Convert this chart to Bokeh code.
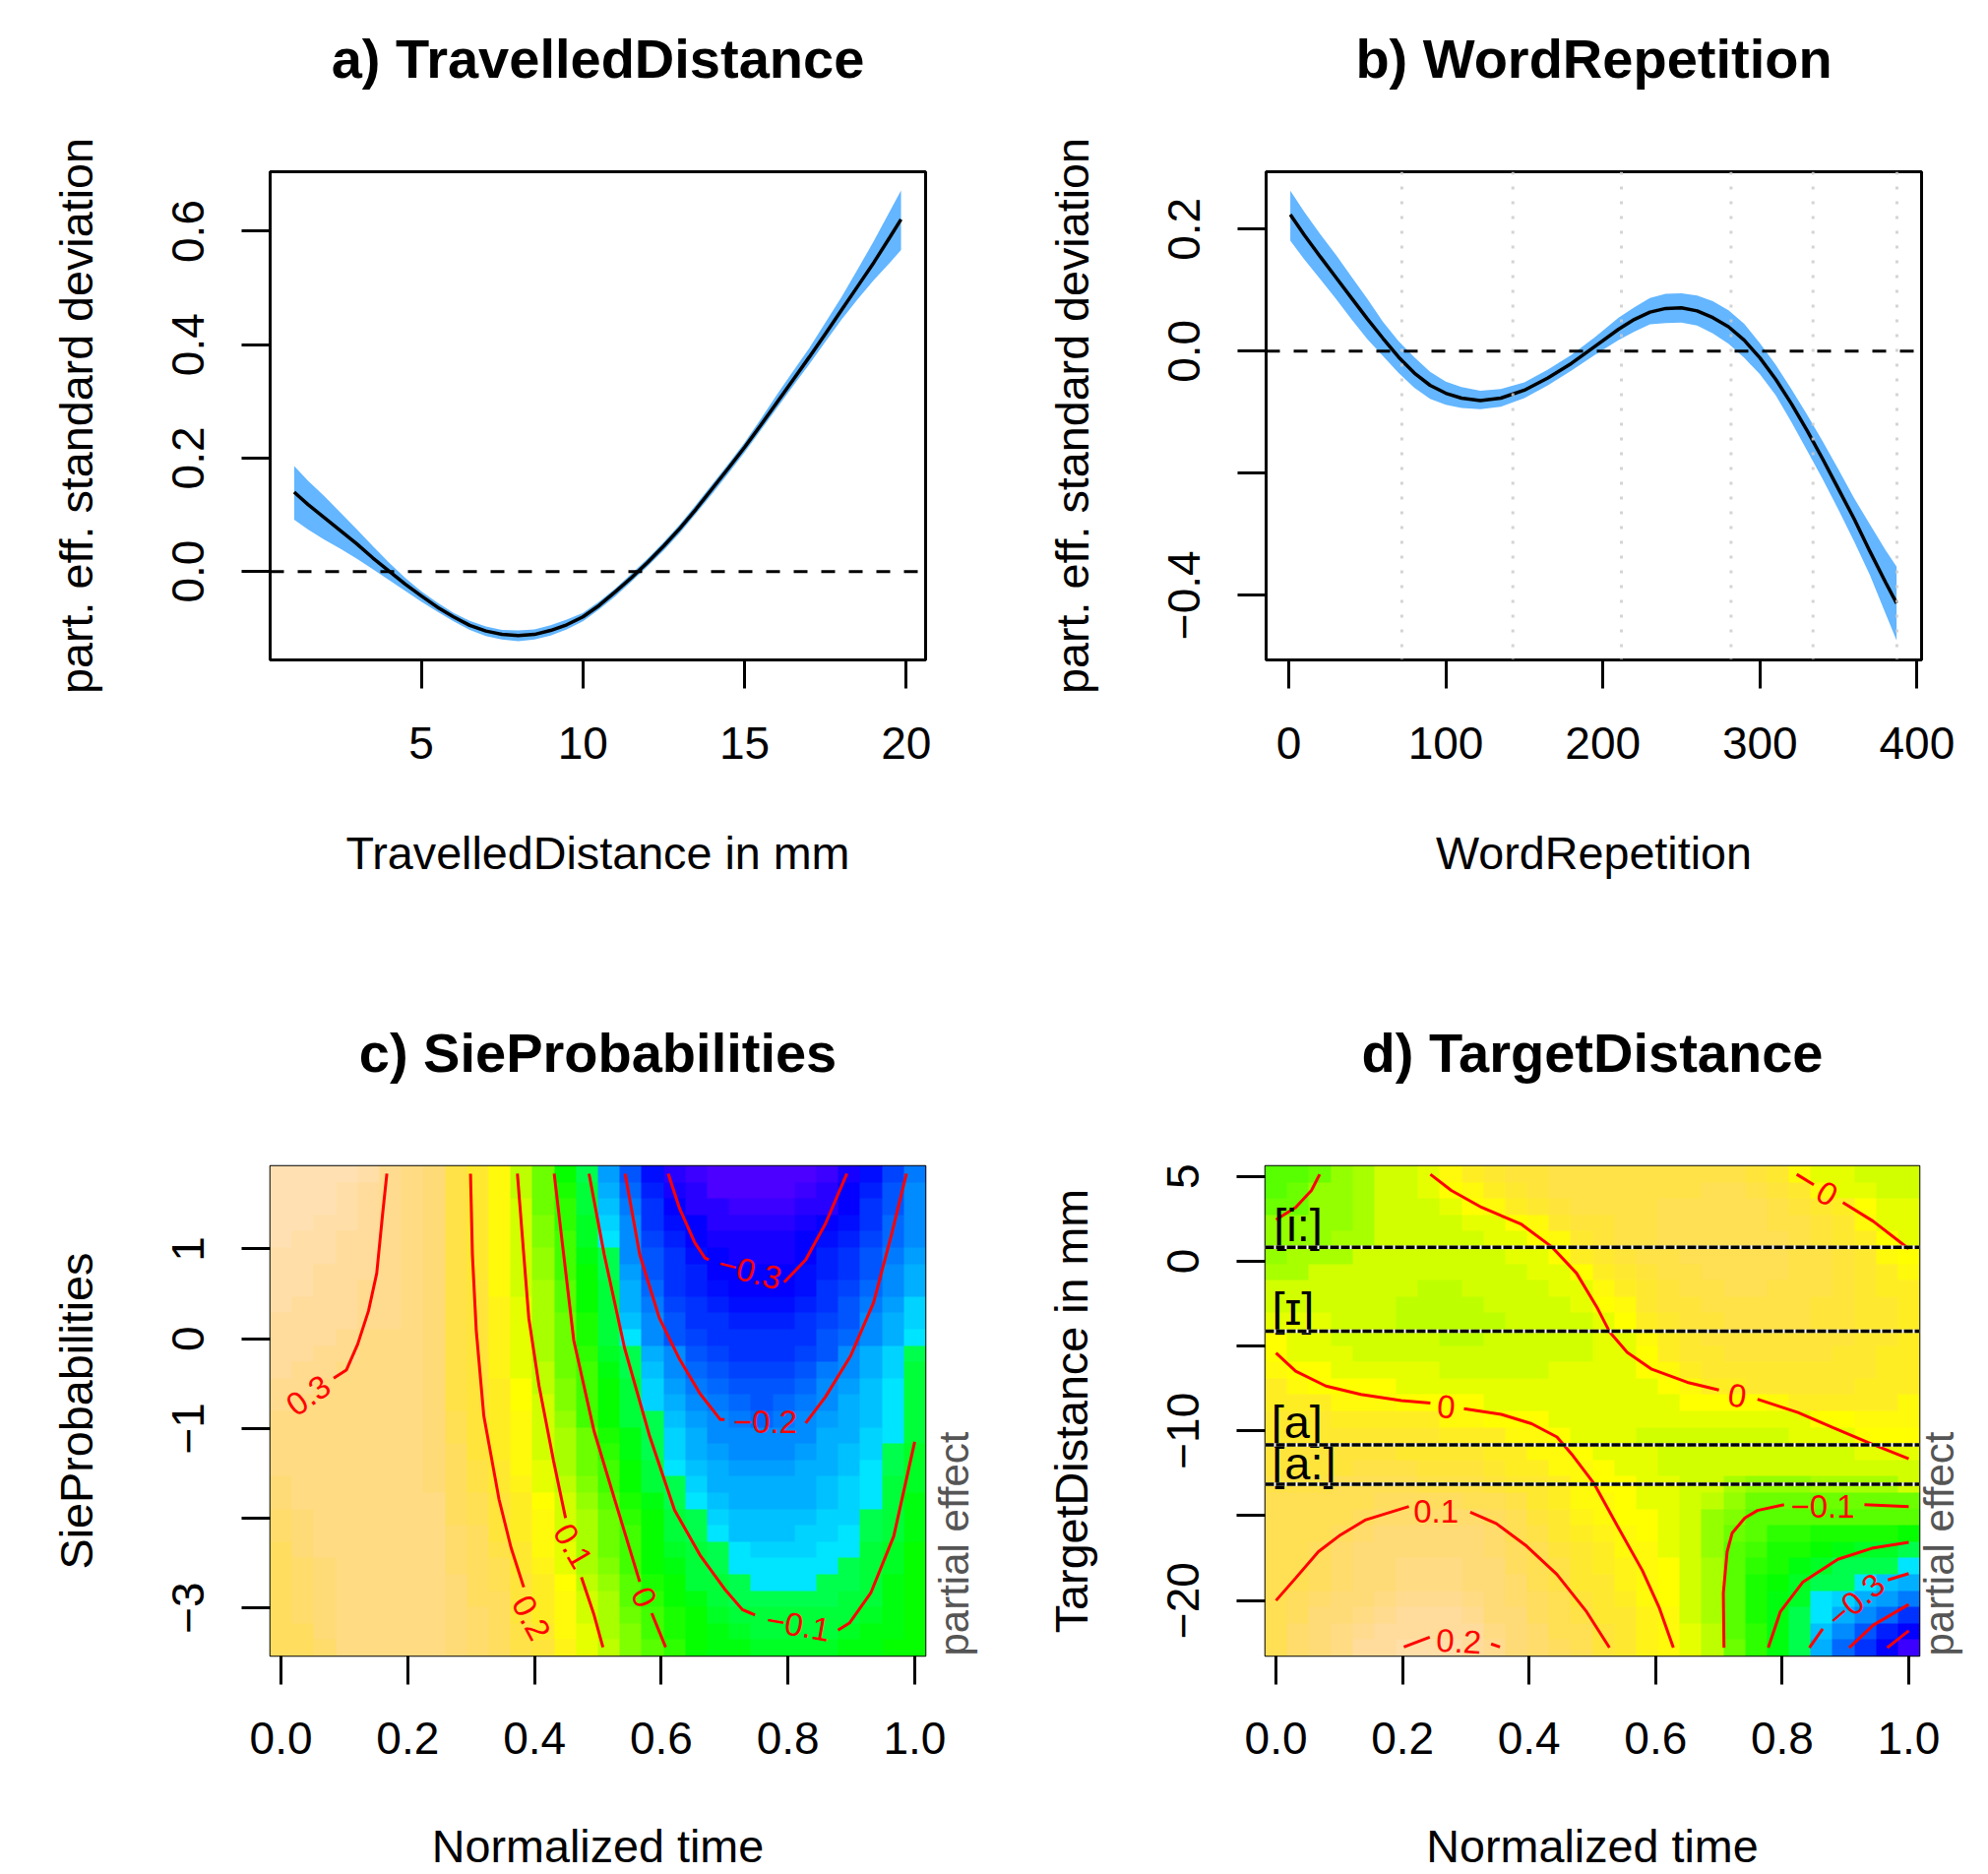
import colorsys
import math
import numpy as np
from bokeh.core.properties import value
from bokeh.embed import file_html
from bokeh.layouts import column, row
from bokeh.models import FixedTicker, LinearAxis, LinearColorMapper, Range1d, Span
from bokeh.plotting import figure
from bokeh.resources import INLINE

a_x = [1.07, 1.5, 2, 2.5, 3, 3.5, 4, 4.5, 5, 5.5, 6, 6.5, 7, 7.5, 8, 8.5, 9, 9.5, 10, 10.5, 11, 11.5, 12, 12.5, 13, 13.5, 14, 14.5, 15, 15.5, 16, 16.5, 17, 17.5, 18, 18.5, 19, 19.5, 19.84]
a_y = [.14, .118, .095, .072, .049, .024, .001, -.022, -.043, -.063, -.08, -.095, -.105, -.111, -.113, -.111, -.104, -.094, -.08, -.06, -.036, -.011, .016, .045, .076, .11, .146, .182, .219, .258, .298, .338, .378, .419, .461, .503, .545, .59, .621]
a_up = [.186, .16, .133, .104, .075, .045, .016, -.011, -.035, -.055, -.073, -.087, -.097, -.103, -.104, -.102, -.095, -.085, -.073, -.053, -.03, -.004, .023, .052, .083, .118, .154, .19, .227, .269, .312, .353, .394, .439, .484, .533, .583, .636, .672]
a_lo = [.0915, .074, .056, .04, .023, .004, -.015, -.034, -.053, -.071, -.088, -.103, -.114, -.12, -.123, -.12, -.113, -.102, -.088, -.067, -.044, -.018, .009, .037, .068, .102, .137, .173, .21, .249, .288, .327, .365, .405, .444, .48, .514, .545, .567]

b_x = [1, 10, 20, 30, 40, 50, 60, 70, 80, 90, 100, 110, 122, 135, 150, 165, 180, 195, 210, 220, 230, 240, 250, 260, 270, 280, 290, 300, 310, 320, 330, 340, 350, 360, 370, 380, 387]
b_y = [.224, .19, .155, .121, .087, .053, .021, -.01, -.036, -.056, -.069, -.077, -.081, -.077, -.064, -.044, -.02, .008, .036, .052, .064, .07, .071, .066, .055, .04, .018, -.011, -.046, -.086, -.13, -.177, -.226, -.275, -.328, -.379, -.413]
b_up = [.263, .228, .192, .158, .122, .086, .048, .016, -.01, -.034, -.05, -.059, -.065, -.062, -.051, -.03, -.006, .023, .055, .072, .087, .094, .095, .091, .082, .067, .045, .013, -.022, -.062, -.104, -.148, -.194, -.241, -.284, -.326, -.353]
b_lo = [.181, .15, .118, .086, .052, .02, -.008, -.036, -.06, -.078, -.088, -.093, -.095, -.091, -.077, -.056, -.032, -.006, .018, .032, .044, .046, .047, .042, .029, .012, -.011, -.038, -.072, -.116, -.163, -.21, -.26, -.312, -.367, -.43, -.474]
b_knots = [72, 142.7, 211.8, 281.6, 333.8, 387.2]

c_matrix = [
[35,35,35,34,33,30,29,27,22,19,14,9,3,-3,-9,-16,-21,-27,-31,-33,-34,-35,-35,-34,-34,-33,-30,-27,-23,-19],
[35,35,34,33,32,30,29,27,22,19,14,9,4,-2,-8,-14,-20,-26,-30,-32,-34,-34,-34,-34,-33,-32,-29,-26,-22,-18],
[34,34,34,33,32,30,29,27,22,19,14,10,4,-1,-7,-13,-19,-25,-29,-31,-32,-33,-33,-33,-32,-31,-28,-25,-21,-18],
[34,34,33,33,32,30,29,27,22,19,14,10,5,-1,-6,-12,-18,-24,-27,-29,-31,-31,-31,-31,-30,-28,-27,-24,-20,-17],
[34,33,33,32,31,30,29,27,22,19,14,10,5,0,-6,-11,-18,-23,-26,-28,-30,-30,-30,-30,-29,-27,-26,-23,-20,-17],
[33,33,33,32,31,30,29,27,22,19,15,11,6,0,-5,-9,-17,-22,-25,-27,-29,-30,-30,-30,-28,-26,-25,-22,-19,-16],
[33,33,32,32,31,30,29,27,22,19,15,11,6,1,-4,-9,-16,-21,-24,-26,-28,-29,-29,-29,-27,-26,-24,-21,-18,-15],
[33,33,32,31,30,30,29,27,22,20,15,11,7,2,-4,-8,-15,-20,-24,-26,-27,-28,-28,-28,-27,-25,-23,-20,-17,-14],
[33,32,32,31,30,30,29,27,22,20,16,12,7,2,-3,-8,-14,-19,-23,-25,-26,-27,-27,-27,-26,-24,-22,-19,-16,-12],
[32,32,31,31,30,30,29,27,22,20,16,12,7,3,-2,-8,-13,-18,-22,-24,-25,-26,-26,-26,-25,-23,-21,-18,-15,-12],
[32,31,31,30,29,29,29,27,22,20,16,12,8,3,-2,-7,-11,-17,-21,-23,-24,-25,-25,-25,-24,-22,-20,-17,-14,-11],
[31,31,30,30,29,29,28,27,22,20,16,12,8,4,-1,-6,-9,-14,-18,-21,-23,-24,-24,-24,-23,-21,-18,-15,-12,-9],
[31,30,30,29,29,29,28,27,22,20,16,12,9,4,0,-5,-9,-13,-17,-20,-22,-23,-23,-23,-21,-19,-17,-14,-12,-8],
[30,30,29,29,29,29,28,27,22,20,17,13,9,5,0,-4,-8,-12,-16,-19,-20,-21,-22,-21,-20,-18,-16,-13,-11,-8],
[30,29,29,29,29,29,28,27,22,20,17,13,10,5,1,-4,-8,-12,-15,-17,-19,-20,-21,-20,-19,-17,-15,-13,-11,-7],
[29,29,29,29,29,29,28,27,23,21,17,14,10,6,1,-3,-7,-9,-13,-16,-18,-19,-20,-19,-18,-16,-15,-13,-11,-7],
[29,29,29,29,29,29,28,27,23,21,18,14,11,7,3,-2,-5,-9,-12,-15,-17,-18,-18,-18,-17,-15,-14,-12,-11,-7],
[28,29,29,29,29,29,28,27,24,21,18,15,11,7,4,-1,-5,-9,-12,-14,-16,-17,-17,-17,-16,-14,-13,-12,-9,-6],
[28,28,29,29,29,29,28,27,24,22,19,15,12,8,4,0,-4,-8,-11,-13,-15,-16,-16,-16,-15,-14,-13,-11,-9,-6],
[27,28,29,29,29,29,28,27,24,22,19,16,12,9,5,1,-3,-7,-9,-12,-14,-15,-15,-15,-14,-13,-12,-11,-8,-6],
[27,28,28,29,29,29,29,28,25,23,20,17,13,10,6,2,-2,-5,-9,-11,-13,-14,-14,-14,-14,-13,-12,-11,-8,-5],
[26,27,28,29,29,29,29,28,25,23,21,17,14,10,7,3,-1,-4,-8,-9,-12,-13,-13,-13,-13,-12,-12,-9,-7,-5],
[26,27,28,28,29,29,29,29,26,24,21,18,15,11,7,4,0,-4,-7,-9,-11,-13,-13,-13,-12,-12,-11,-9,-7,-5],
[25,27,28,28,29,29,29,29,26,24,22,19,15,12,8,4,1,-3,-6,-8,-9,-11,-12,-12,-12,-11,-11,-8,-6,-4],
[25,26,27,28,29,29,29,29,26,25,23,19,16,12,8,5,1,-3,-5,-8,-9,-11,-11,-11,-11,-11,-9,-8,-6,-4],
[25,26,27,28,28,29,29,29,27,25,23,20,17,13,9,6,2,-2,-4,-7,-8,-9,-11,-11,-11,-9,-9,-7,-5,-4],
[25,26,27,28,28,29,29,29,27,25,24,21,17,14,10,7,2,-1,-3,-5,-7,-9,-9,-9,-9,-9,-8,-7,-5,-4],
[24,26,27,28,28,29,29,29,27,26,24,21,18,14,11,7,4,0,-2,-4,-6,-7,-8,-8,-8,-8,-7,-6,-5,-4],
[24,25,27,28,28,29,29,29,27,26,24,22,19,15,12,8,5,1,-2,-3,-5,-6,-7,-7,-7,-7,-6,-5,-5,-4],
[24,25,26,28,28,29,29,29,27,26,25,22,20,16,12,9,5,2,-1,-3,-5,-5,-6,-6,-6,-6,-5,-5,-4,-4],
]

d_matrix = [
[-10,-10,-9,-7,-5,-3,-2,-1,2,4,6,7,7,8,8,8,8,8,8,8,8,8,7,6,2,-1,-1,-3,-3,-3],
[-10,-9,-7,-6,-5,-3,-3,-1,0,2,4,6,7,8,8,8,8,8,8,8,9,9,8,7,6,2,-1,-1,-2,-2],
[-9,-9,-7,-6,-5,-3,-3,-2,-1,0,2,4,6,7,8,8,8,8,9,9,9,9,9,8,7,6,4,0,-1,-1],
[-7,-7,-6,-6,-5,-3,-3,-3,-2,-1,-1,0,2,6,7,7,8,8,9,9,9,9,9,8,8,7,6,2,-1,-1],
[-6,-6,-6,-5,-5,-3,-3,-3,-3,-2,-1,-1,0,2,6,7,8,8,9,9,9,9,9,9,8,7,6,4,0,-1],
[-6,-5,-5,-5,-3,-3,-3,-3,-3,-3,-2,-1,-1,0,4,6,7,8,8,9,9,9,9,9,8,8,7,6,2,0],
[-5,-5,-3,-3,-3,-3,-3,-3,-3,-3,-3,-2,-1,-1,0,4,6,7,8,8,9,9,9,9,8,8,7,6,4,2],
[-3,-3,-3,-3,-3,-3,-3,-4,-4,-3,-3,-3,-2,-1,-1,2,4,6,7,8,8,9,9,8,8,8,7,6,4,4],
[-2,-2,-3,-3,-3,-3,-4,-4,-4,-4,-3,-3,-3,-2,-1,0,2,6,7,7,8,8,8,8,8,7,7,6,6,4],
[-1,-1,-1,-3,-3,-3,-4,-4,-4,-4,-4,-3,-3,-3,-2,-1,0,4,6,7,7,8,8,8,8,7,7,6,6,4],
[0,-1,-1,-2,-3,-3,-3,-3,-4,-4,-3,-3,-3,-3,-2,-1,-1,2,4,6,7,7,7,7,7,7,7,6,6,4],
[0,-1,-1,-1,-2,-2,-3,-3,-3,-3,-3,-3,-3,-2,-2,-1,-1,0,4,6,6,7,7,7,7,7,6,6,4,4],
[2,0,0,-1,-1,-1,-1,-1,-2,-2,-2,-2,-2,-1,-1,-1,-1,0,2,4,6,6,6,6,6,6,6,6,4,4],
[4,2,0,0,0,0,-1,-1,-1,-1,-1,-1,-1,-1,-1,-1,-1,-1,0,2,4,4,6,6,6,6,6,4,4,4],
[4,4,4,2,2,2,0,0,0,0,-1,-1,-1,-1,-1,-1,-1,-1,-1,0,0,0,0,2,4,4,4,4,4,2],
[6,6,6,4,4,4,4,4,2,2,0,0,0,-1,-1,-1,-1,-1,-1,-1,-1,-1,-1,-1,-1,0,0,2,2,2],
[6,6,6,6,6,6,6,6,4,4,4,2,2,0,-1,-1,-1,-2,-2,-2,-2,-2,-2,-2,-1,-1,-1,0,0,0],
[7,7,7,7,7,7,6,6,6,6,4,4,2,2,0,-1,-1,-1,-2,-3,-3,-3,-3,-3,-3,-2,-2,-1,-1,-1],
[7,7,7,7,8,8,8,7,7,7,6,4,4,2,2,0,-1,-1,-2,-3,-3,-3,-3,-3,-3,-3,-3,-3,-2,-2],
[8,8,8,9,9,9,9,8,8,8,7,6,6,4,2,0,0,-1,-1,-2,-3,-5,-6,-6,-6,-5,-5,-5,-5,-3],
[9,9,10,10,10,11,11,11,11,10,9,8,6,4,2,1,0,-1,-1,-2,-4,-6,-9,-9,-9,-9,-9,-9,-9,-9],
[9,10,10,10,11,12,12,12,12,12,11,9,7,5,3,2,0,0,-1,-3,-6,-8,-10,-11,-11,-11,-11,-11,-11,-11],
[9,10,10,11,12,13,13,13,13,13,12,10,8,6,4,3,1,0,-1,-3,-6,-9,-11,-13,-13,-14,-14,-15,-15,-16],
[9,10,11,12,13,14,14,14,14,13,12,11,9,7,5,4,2,1,-1,-3,-6,-10,-12,-14,-15,-16,-17,-18,-19,-21],
[9,10,11,12,13,14,15,15,15,14,13,11,9,8,6,4,3,1,0,-2,-5,-10,-13,-15,-17,-19,-21,-21,-21,-22],
[9,10,11,12,13,14,15,15,15,14,13,12,10,8,6,5,3,2,0,-2,-5,-10,-14,-16,-19,-21,-21,-22,-25,-27],
[9,11,12,13,14,15,16,16,16,15,14,12,11,9,7,6,4,2,0,-2,-5,-10,-14,-17,-19,-22,-24,-26,-28,-31],
[10,11,13,14,15,16,17,17,17,16,14,13,11,10,8,6,5,3,1,-2,-5,-10,-14,-17,-21,-22,-26,-29,-32,-36],
[10,12,13,15,16,17,18,18,18,17,15,14,12,10,9,7,5,3,1,-1,-4,-10,-13,-17,-21,-25,-29,-33,-37,-40],
[10,12,14,15,17,18,19,19,19,17,16,14,12,11,9,7,5,3,1,-1,-4,-9,-13,-17,-21,-26,-32,-36,-40,-44],
]

c_lines_x = [
    [.167, .16, .151, .138, .121, .103, .083],
    [.299, .302, .308, .32, .344, .363, .383],
    [.373, .383, .391, .407, .43, .449],
    [.474, .494, .508],
    [.431, .446, .462, .494, .526, .566],
    [.585, .607],
    [.486, .51, .542, .581, .621, .661, .70, .728, .748],
    [.879, .897, .931, .967, 1.0],
    [.543, .566, .597, .629, .661, .693, .70],
    [.828, .859, .899, .935, .963, .987],
    [.611, .629, .653, .669, .675],
    [.794, .828, .859, .893],
]
c_lines_y = [
    [1.84, 1.37, .73, .31, -.06, -.35, -.44],
    [1.84, .94, .10, -.86, -1.79, -2.33, -2.77],
    [1.84, .94, .23, -.52, -1.36, -2.0],
    [-2.66, -3.08, -3.44],
    [1.84, .94, -.02, -1.03, -1.78, -2.71],
    [-3.06, -3.44],
    [1.84, .94, -.1, -1.07, -1.91, -2.41, -2.79, -3.02, -3.08],
    [-3.25, -3.17, -2.83, -2.2, -1.15],
    [1.84, .94, .23, -.23, -.61, -.9, -.9],
    [-.94, -.65, -.19, .4, 1.15, 1.84],
    [1.84, 1.45, 1.07, .9, .88],
    [.63, .88, 1.28, 1.84],
]
c_label_text = ["0.3", "0.2", "0.1", "0", "\u22120.1", "\u22120.2", "\u22120.3"]
c_label_x = [.043, .395, .461, .573, .816, .764, .74]
c_label_y = [-.63, -3.11, -2.31, -2.88, -3.19, -.93, .755]
c_label_angle = [35, -62, -60, -65, -10, 0, -15]

d_lines_x = [
    [.069, .056, .031, 0],
    [.244, .277, .325, .388, .436, .475, .507, .527, .555, .594, .65, .70],
    [.761, .825, .88, .936, 1.0],
    [0, .031, .079, .134, .198, .244],
    [.297, .356, .404, .444, .467, .503, .539, .579, .606, .628],
    [.823, .85],
    [.896, .944, 1.0],
    [0, .031, .067, .102, .142, .21],
    [.307, .348, .396, .444, .491, .527],
    [.202, .243],
    [.34, .354],
    [.708, .707, .713, .721, .741, .761, .803],
    [.93, 1.0],
    [.778, .797, .833, .888, .944, 1.0],
    [.843, .864],
    [.967, 1.0],
    [.906, .944, 1.0],
    [.966, 1.0],
]
d_lines_y = [
    [5.12, 4.17, 3.17, 2.44],
    [5.12, 4.17, 3.17, 2.17, .84, -.71, -2.7, -4.15, -5.37, -6.37, -7.14, -7.59],
    [-8.14, -8.92, -9.8, -10.69, -11.65],
    [-5.41, -6.48, -7.36, -7.85, -8.21, -8.36],
    [-8.7, -9.03, -9.58, -10.36, -11.36, -13.13, -15.57, -18.23, -20.45, -22.78],
    [5.12, 4.5],
    [3.46, 2.35, .73],
    [-20, -18.68, -17.12, -16.13, -15.24, -14.46],
    [-14.8, -15.46, -16.79, -18.46, -20.67, -22.78],
    [-22.74, -22.16],
    [-22.56, -22.74],
    [-22.78, -19.57, -17.12, -16.02, -15.13, -14.69, -14.35],
    [-14.35, -14.46],
    [-22.78, -20.67, -18.9, -17.57, -16.9, -16.57],
    [-22.78, -21.67],
    [-18.79, -18.41],
    [-22.78, -21.45, -20.23],
    [-22.78, -21.78],
]
d_label_text = ["0", "0", "0", "0.1", "0.2", "\u22120.1", "\u22120.3"]
d_label_x = [.269, .729, .871, .253, .289, .864, .916]
d_label_y = [-8.58, -7.92, 3.99, -14.73, -22.4, -14.46, -20.0]
d_label_angle = [-4, -8, -31, 0, -3, 0, 41]

vowel_lines = [.82, -4.13, -10.82, -13.15]
vowel_text = ["[i:]", "[\u026a]", "[a]", "[a:]"]
vowel_x = [.035, .027, .033, .044]
vowel_y = [2.13, -2.82, -9.47, -11.91]

FONT = "Liberation Sans"


def topo_palette(n=50):
    j = n // 3
    i = n - 2 * j
    cols = []
    for h in np.linspace(43 / 60, 31 / 60, i):
        cols.append(colorsys.hsv_to_rgb(h, 1, 1))
    for h in np.linspace(23 / 60, 11 / 60, j):
        cols.append(colorsys.hsv_to_rgb(h, 1, 1))
    for h, s in zip(np.linspace(10 / 60, 6 / 60, j), np.linspace(1, .3, j)):
        cols.append(colorsys.hsv_to_rgb(h, s, 1))
    return ["#%02x%02x%02x" % tuple(int(round(v * 255)) for v in c) for c in cols]


def panel(title, xlabel, ylabel, xr, yr, xt, yt, xo, yo, w, h, left, top, bottom, bw, xls, xas):
    p = figure(width=w, height=h, x_range=Range1d(*xr), y_range=Range1d(*yr),
               toolbar_location=None, output_backend="svg",
               min_border_left=left, min_border_right=w - left - 666,
               min_border_top=top, min_border_bottom=bottom, background_fill_color="white")
    p.grid.visible = False
    p.outline_line_color = "black"
    p.outline_line_width = bw
    p.outline_line_alpha = 1
    for ax, ticks, over, lab in ((p.below[0], xt, xo, xlabel), (p.left[0], yt, yo, ylabel)):
        ax.ticker = FixedTicker(ticks=ticks)
        ax.major_label_overrides = over
        ax.axis_line_color = None
        ax.major_tick_line_color = "black"
        ax.major_tick_line_width = 3
        ax.major_tick_out = 29
        ax.major_tick_in = 0
        ax.minor_tick_line_color = None
        ax.major_label_text_font = FONT
        ax.major_label_text_font_size = "46px"
        ax.major_label_text_color = "black"
        ax.axis_label = lab
        ax.axis_label_text_font = FONT
        ax.axis_label_text_font_size = "46.7px"
        ax.axis_label_text_font_style = "normal"
        ax.axis_label_text_color = "black"
    p.below[0].major_label_standoff = xls
    p.below[0].axis_label_standoff = xas
    p.left[0].major_label_orientation = "vertical"
    p.left[0].major_label_standoff = 38
    p.left[0].axis_label_standoff = 69
    head = LinearAxis(ticker=FixedTicker(ticks=[]), axis_line_color=None, major_tick_line_color=None,
                      minor_tick_line_color=None, major_tick_out=0, major_tick_in=0,
                      major_label_standoff=0, major_label_text_font_size="0px",
                      axis_label=title, axis_label_text_font=FONT, axis_label_text_font_size="56px",
                      axis_label_text_font_style="bold", axis_label_text_color="black",
                      axis_label_standoff=84)
    p.add_layout(head, "above")
    return p


def curve(p, x, y, up, lo):
    p.varea(x=x, y1=lo, y2=up, fill_color="#63B6FF")


def add_heat(p, matrix, low, high, xr, yr):
    mapper = LinearColorMapper(palette=topo_palette(), low=low, high=high)
    img = np.array(matrix, dtype=float)[::-1] / 100
    p.image(image=[img], x=xr[0], y=yr[0], dw=xr[1] - xr[0], dh=yr[1] - yr[0], color_mapper=mapper)


def add_contours(p, xs, ys, text, lx, ly, la):
    p.multi_line(xs=xs, ys=ys, line_color="#FF0000", line_width=3)
    p.text(x=lx, y=ly, text=text, angle=la, angle_units="deg", text_color="#FF0000",
           text_font=value(FONT), text_font_size=value("33px"),
           text_align="center", text_baseline="middle")


def side_label(p, standoff):
    ax = LinearAxis(ticker=FixedTicker(ticks=[]), axis_line_color=None, major_tick_line_color=None,
                    minor_tick_line_color=None, major_tick_out=0, major_tick_in=0,
                    major_label_standoff=0, major_label_text_font_size="0px",
                    axis_label="partial effect", axis_label_text_font=FONT,
                    axis_label_text_font_size="42px", axis_label_text_font_style="normal",
                    axis_label_text_color="#555555", axis_label_standoff=standoff,
                    axis_label_orientation=math.pi / 2, axis_label_align="start")
    p.add_layout(ax, "right")


W_A, W_B, W_C, W_D, H1, H2 = 1002, 1012, 1022, 998, 952, 952
XR = (-.0172, 1.0172)
C_YR = (-3.537, 1.927)
D_YR = (-23.27, 5.62)
M = "\u2212"

pa = panel("a) TravelledDistance", "TravelledDistance in mm", "part. eff. standard deviation",
           (.327, 20.6), (-.156, .705), [5, 10, 15, 20], [0, .2, .4, .6],
           {}, {0: "0.0", .2: "0.2", .4: "0.4", .6: "0.6"}, W_A, H1, 274, 174, 282, 3, 39, 67)
curve(pa, a_x, a_y, a_up, a_lo)
pa.add_layout(Span(location=0, dimension="width", line_color="black", line_width=3, line_dash="14 14"))
pa.line(a_x, a_y, line_color="black", line_width=3.5)

pb = panel("b) WordRepetition", "WordRepetition", "part. eff. standard deviation",
           (-14.4, 402.9), (-.506, .294), [0, 100, 200, 300, 400], [-.4, -.2, 0, .2],
           {}, {.2: "0.2", 0: "0.0", -.2: "", -.4: M + "0.4"}, W_B, H1, 284, 174, 282, 3, 39, 67)
curve(pb, b_x, b_y, b_up, b_lo)
for k in b_knots:
    pb.add_layout(Span(location=k, dimension="height", line_color="#CCCCCC", line_width=3, line_dash="3 12", line_alpha=.85))
pb.add_layout(Span(location=0, dimension="width", line_color="black", line_width=3, line_dash="14 14"))
pb.line(b_x, b_y, line_color="black", line_width=3.5)

pc = panel("c) SieProbabilities", "Normalized time", "SieProbabilities",
           XR, C_YR, [0, .2, .4, .6, .8, 1], [-3, -2, -1, 0, 1],
           {0: "0.0", .2: "0.2", .4: "0.4", .6: "0.6", .8: "0.8", 1: "1.0"},
           {1: "1", 0: "0", -1: M + "1", -2: "", -3: M + "3"}, W_C, H2, 274, 232, 222, 1.5, 38, 65)
add_heat(pc, c_matrix, -.35, .35, XR, C_YR)
add_contours(pc, c_lines_x, c_lines_y, c_label_text, c_label_x, c_label_y, c_label_angle)
side_label(pc, 29)

pd_ = panel("d) TargetDistance", "Normalized time", "TargetDistance in mm",
            XR, D_YR, [0, .2, .4, .6, .8, 1], [-20, -15, -10, -5, 0, 5],
            {0: "0.0", .2: "0.2", .4: "0.4", .6: "0.6", .8: "0.8", 1: "1.0"},
            {5: "5", 0: "0", -5: "", -10: M + "10", -15: "", -20: M + "20"}, W_D, H2, 263, 232, 222, 1.5, 38, 65)
add_heat(pd_, d_matrix, -.46, .207, XR, D_YR)
add_contours(pd_, d_lines_x, d_lines_y, d_label_text, d_label_x, d_label_y, d_label_angle)
for v in vowel_lines:
    pd_.add_layout(Span(location=v, dimension="width", line_color="white", line_width=3.5))
    pd_.add_layout(Span(location=v, dimension="width", line_color="black", line_width=3.5, line_dash="9 2"))
pd_.text(x=vowel_x, y=vowel_y, text=vowel_text, text_color="black", text_font=value(FONT),
         text_font_size=value("47px"), text_align="center", text_baseline="middle")
side_label(pd_, 20)

layout = column(row(pa, pb, spacing=0), row(pc, pd_, spacing=0), spacing=0)
open("out.html", "w").write(file_html(layout, INLINE))
